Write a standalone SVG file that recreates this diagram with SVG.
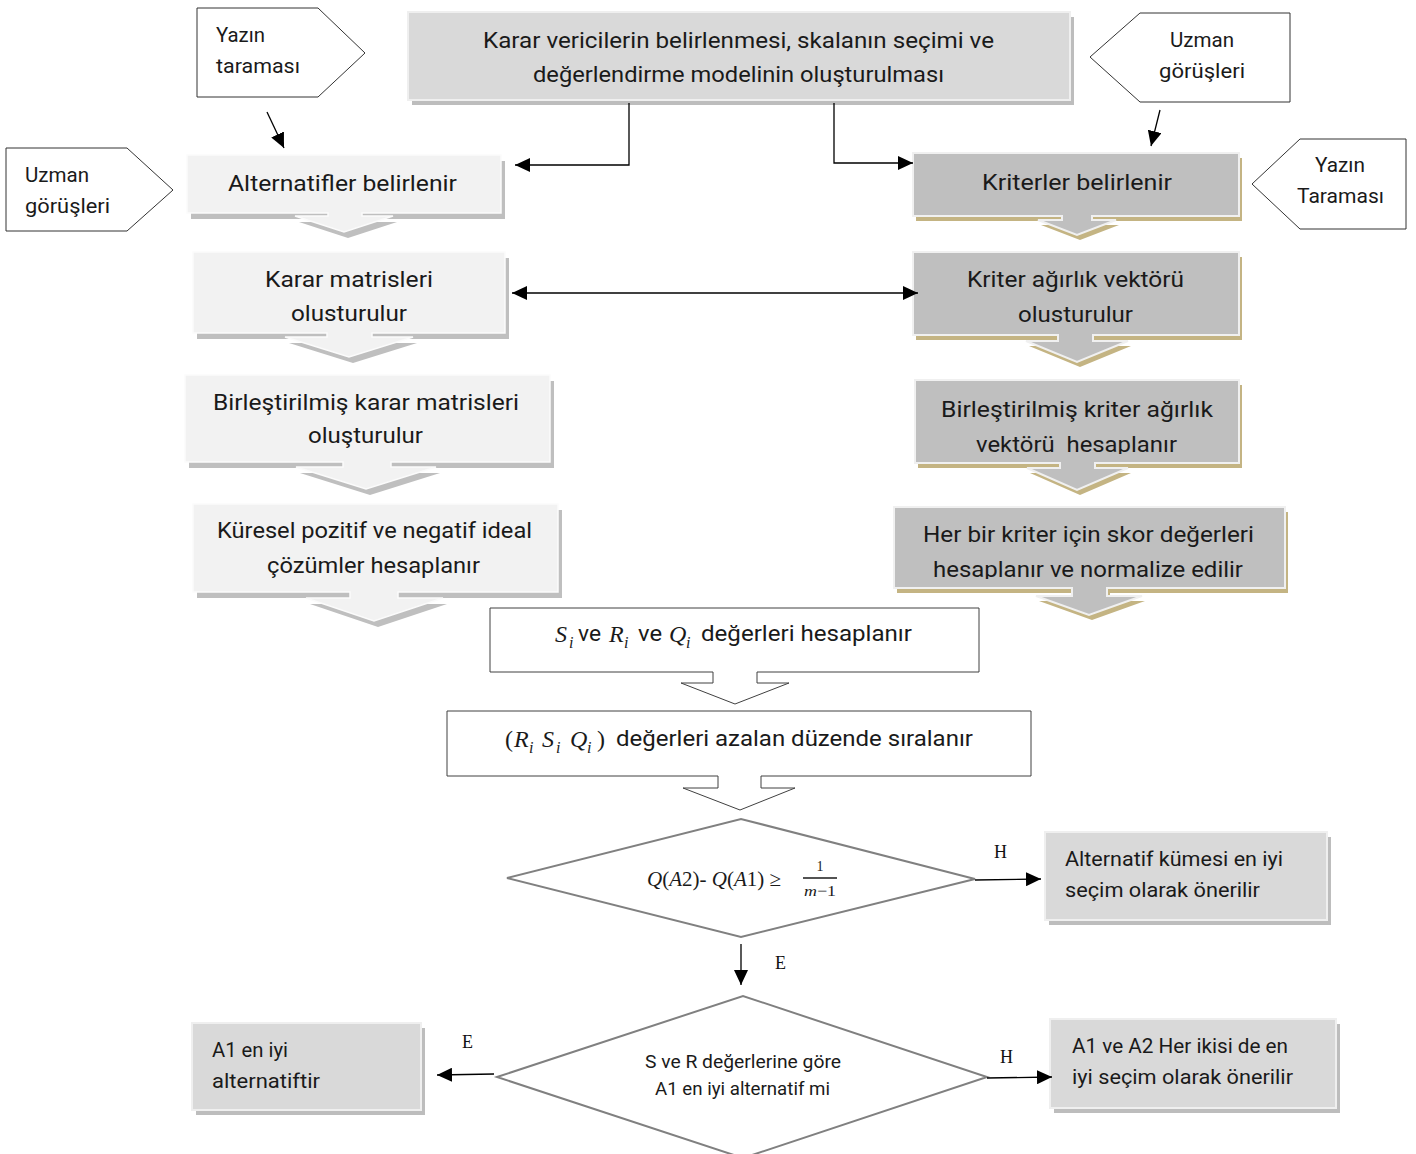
<svg xmlns="http://www.w3.org/2000/svg" xmlns:xlink="http://www.w3.org/1999/xlink" width="1416" height="1154" viewBox="0 0 1416 1154">
<style>
.t{font-family:Roboto,"Liberation Sans",sans-serif;fill:#1a1a1a;font-size:22px}
.s{font-size:21px}
.c{font-size:20px}
.d{font-size:18px}
.m{font-family:"Liberation Serif",serif;fill:#1a1a1a;font-size:24px}
.i{font-style:italic}
.sub{font-size:16px;font-style:italic}
.lbl{font-family:"Liberation Serif",serif;font-size:18px;fill:#111}
.pent{fill:#fff;stroke:#333;stroke-width:1}
.lt{fill:#f2f2f2;stroke:#fbfbfb;stroke-width:1.5}
.lsh{fill:#bfbfbf}
.rt{fill:#bfbfbf;stroke:#f0f0f0;stroke-width:2}
.rsh{fill:#c4b483}
.gb{fill:#d9d9d9;stroke:#efefef;stroke-width:2}
.gsh{fill:#bdbdbd}
.wb{fill:#fff;stroke:#404040;stroke-width:1}
.dia{fill:#fff;stroke:#808080;stroke-width:2}
.con{fill:none;stroke:#000;stroke-width:1.3}
</style>
<defs>
<marker id="ah" markerUnits="userSpaceOnUse" markerWidth="16" markerHeight="14" refX="15" refY="7" orient="auto-start-reverse"><path d="M0,0 L15,7 L0,14 Z" fill="#000"/></marker>
<path id="pL1" d="M187,155 H501 V213 H362 V216 H393 L344,232 L295,216 H328 V213 H187 Z"/>
<path id="pL2" d="M193,252 H505 V333 H372 V337 H413 L349,357 L285,337 H327 V333 H193 Z"/>
<path id="pL3" d="M185,375 H550 V462 H391 V467 H436 L366,489 L296,467 H343 V462 H185 Z"/>
<path id="pL4" d="M193,504 H558 V592 H398 V598 H443 L374,621 L306,598 H350 V592 H193 Z"/>
<path id="pR1" d="M913,153 H1239 V216 H1092 V220 H1116 L1077,235 L1038,220 H1062 V216 H913 Z"/>
<path id="pR2" d="M913,252 H1239 V335 H1093 V341 H1128 L1077,362 L1026,341 H1058 V335 H913 Z"/>
<path id="pR3" d="M915,380 H1239 V463 H1095 V468 H1128 L1077,490 L1027,468 H1060 V463 H915 Z"/>
<path id="pR4" d="M894,507 H1285 V588 H1107 V596 H1142 L1089,615 L1036,596 H1072 V588 H894 Z"/>
<clipPath id="clipR3"><rect x="900" y="380" width="340" height="74"/></clipPath>
<clipPath id="clipR4"><rect x="890" y="507" width="400" height="72"/></clipPath>
</defs>

<g id="yazin-taramasi-1">
<path class="pent" d="M197,8 H318 L365,53 L318,97 H197 Z"/>
<text class="t s" x="216" y="42" textLength="49" lengthAdjust="spacingAndGlyphs">Yazın</text>
<text class="t s" x="216" y="73" textLength="84" lengthAdjust="spacingAndGlyphs">taraması</text>
</g>
<g id="uzman-1">
<path class="pent" d="M6,148 H127 L173,190 L127,231 H6 Z"/>
<text class="t s" x="25" y="182" textLength="64" lengthAdjust="spacingAndGlyphs">Uzman</text>
<text class="t s" x="25" y="213" textLength="85" lengthAdjust="spacingAndGlyphs">görüşleri</text>
</g>
<g id="uzman-2">
<path class="pent" d="M1290,13 V102 H1140 L1090,57 L1140,13 Z"/>
<text class="t s" x="1170" y="47" textLength="64" lengthAdjust="spacingAndGlyphs">Uzman</text>
<text class="t s" x="1159" y="78" textLength="86" lengthAdjust="spacingAndGlyphs">görüşleri</text>
</g>
<g id="yazin-taramasi-2">
<path class="pent" d="M1406,139 V229 H1300 L1252,184 L1300,139 Z"/>
<text class="t s" x="1315" y="172" textLength="50" lengthAdjust="spacingAndGlyphs">Yazın</text>
<text class="t s" x="1297" y="203" textLength="87" lengthAdjust="spacingAndGlyphs">Taraması</text>
</g>

<g id="karar-vericiler">
<rect class="gsh" x="412" y="17" width="662" height="88"/>
<rect class="gb" x="408" y="12" width="662" height="88"/>
<text class="t" x="483" y="48" textLength="511" lengthAdjust="spacingAndGlyphs">Karar vericilerin belirlenmesi, skalanın seçimi ve</text>
<text class="t" x="533" y="82" textLength="411" lengthAdjust="spacingAndGlyphs">değerlendirme modelinin oluşturulması</text>
</g>

<g id="alternatifler">
<use xlink:href="#pL1" class="lsh" transform="translate(4,6)"/>
<use xlink:href="#pL1" class="lt"/>
<text class="t" x="228" y="191" textLength="229" lengthAdjust="spacingAndGlyphs">Alternatifler belirlenir</text>
</g>
<g id="karar-matrisleri">
<use xlink:href="#pL2" class="lsh" transform="translate(4,6)"/>
<use xlink:href="#pL2" class="lt"/>
<text class="t" x="265" y="287" textLength="168" lengthAdjust="spacingAndGlyphs">Karar matrisleri</text>
<text class="t" x="291" y="321" textLength="116" lengthAdjust="spacingAndGlyphs">olusturulur</text>
</g>
<g id="birlestirilmis-karar">
<use xlink:href="#pL3" class="lsh" transform="translate(4,6)"/>
<use xlink:href="#pL3" class="lt"/>
<text class="t" x="213" y="410" textLength="306" lengthAdjust="spacingAndGlyphs">Birleştirilmiş karar matrisleri</text>
<text class="t" x="308" y="443" textLength="115" lengthAdjust="spacingAndGlyphs">oluşturulur</text>
</g>
<g id="kuresel">
<use xlink:href="#pL4" class="lsh" transform="translate(4,6)"/>
<use xlink:href="#pL4" class="lt"/>
<text class="t" x="217" y="538" textLength="315" lengthAdjust="spacingAndGlyphs">Küresel pozitif ve negatif ideal</text>
<text class="t" x="267" y="573" textLength="213" lengthAdjust="spacingAndGlyphs">çözümler hesaplanır</text>
</g>

<g id="kriterler">
<use xlink:href="#pR1" class="rsh" transform="translate(3,5)"/>
<use xlink:href="#pR1" class="rt"/>
<text class="t" x="982" y="190" textLength="190" lengthAdjust="spacingAndGlyphs">Kriterler belirlenir</text>
</g>
<g id="kriter-agirlik">
<use xlink:href="#pR2" class="rsh" transform="translate(3,5)"/>
<use xlink:href="#pR2" class="rt"/>
<text class="t" x="967" y="287" textLength="217" lengthAdjust="spacingAndGlyphs">Kriter ağırlık vektörü</text>
<text class="t" x="1018" y="322" textLength="115" lengthAdjust="spacingAndGlyphs">olusturulur</text>
</g>
<g id="birlestirilmis-kriter">
<use xlink:href="#pR3" class="rsh" transform="translate(3,5)"/>
<use xlink:href="#pR3" class="rt"/>
<text class="t" x="941" y="417" textLength="272" lengthAdjust="spacingAndGlyphs">Birleştirilmiş kriter ağırlık</text>
<text class="t" x="976" y="452" textLength="201" lengthAdjust="spacingAndGlyphs" clip-path="url(#clipR3)">vektörü &#160;hesaplanır</text>
</g>
<g id="skor-degerleri">
<use xlink:href="#pR4" class="rsh" transform="translate(3,5)"/>
<use xlink:href="#pR4" class="rt"/>
<text class="t" x="923" y="542" textLength="331" lengthAdjust="spacingAndGlyphs">Her bir kriter için skor değerleri</text>
<text class="t" x="933" y="577" textLength="310" lengthAdjust="spacingAndGlyphs" clip-path="url(#clipR4)">hesaplanır ve normalize edilir</text>
</g>

<g id="sri-hesap">
<path class="wb" d="M490,608 H979 V672 H757 V683 H789 L735,704 L681,683 H713 V672 H490 Z"/>
<text class="m i" x="555" y="642">S</text>
<text class="m sub" x="569" y="648">i</text>
<text class="t" x="578" y="641" textLength="23" lengthAdjust="spacingAndGlyphs">ve</text>
<text class="m i" x="609" y="642">R</text>
<text class="m sub" x="624" y="648">i</text>
<text class="t" x="638" y="641" textLength="24" lengthAdjust="spacingAndGlyphs">ve</text>
<text class="m i" x="669" y="642">Q</text>
<text class="m sub" x="686" y="648">i</text>
<text class="t" x="701" y="641" textLength="211" lengthAdjust="spacingAndGlyphs">değerleri hesaplanır</text>
</g>
<g id="siralama">
<path class="wb" d="M447,711 H1031 V776 H761 V788 H795 L740,810 L683,788 H718 V776 H447 Z"/>
<text class="m" x="505" y="747">(</text>
<text class="m i" x="514" y="747">R</text>
<text class="m sub" x="529" y="753">i</text>
<text class="m i" x="542" y="747">S</text>
<text class="m sub" x="556" y="753">i</text>
<text class="m i" x="570" y="747">Q</text>
<text class="m sub" x="587" y="753">i</text>
<text class="m" x="597" y="747">)</text>
<text class="t" x="616" y="746" textLength="357" lengthAdjust="spacingAndGlyphs">değerleri azalan düzende sıralanır</text>
</g>

<g id="karar-1">
<path class="dia" d="M507,878 L741,819 L975,879 L741,937 Z"/>
<text class="m" x="647" y="886" style="font-size:21px"><tspan class="i">Q</tspan>(<tspan class="i">A</tspan>2)- <tspan class="i">Q</tspan>(<tspan class="i">A</tspan>1) ≥</text>
<text class="m" x="820" y="871" style="font-size:14px" text-anchor="middle">1</text>
<line x1="803" y1="878" x2="837" y2="878" stroke="#1a1a1a" stroke-width="1.3"/>
<text class="m" x="804" y="896" style="font-size:15px" textLength="32" lengthAdjust="spacingAndGlyphs"><tspan class="i">m</tspan>−1</text>
</g>
<g id="karar-2">
<path class="dia" d="M497,1077 L743,996 L987,1077 L743,1158 Z"/>
<text class="t d" x="645" y="1068" textLength="196" lengthAdjust="spacingAndGlyphs">S ve R değerlerine göre</text>
<text class="t d" x="655" y="1095" textLength="175" lengthAdjust="spacingAndGlyphs">A1 en iyi alternatif mi</text>
</g>

<g id="alternatif-kumesi">
<rect class="gsh" x="1049" y="837" width="282" height="88"/>
<rect class="gb" x="1045" y="832" width="282" height="88"/>
<text class="t c" x="1065" y="866" textLength="218" lengthAdjust="spacingAndGlyphs">Alternatif kümesi en iyi</text>
<text class="t c" x="1065" y="897" textLength="195" lengthAdjust="spacingAndGlyphs">seçim olarak önerilir</text>
</g>
<g id="a1-a2">
<rect class="gsh" x="1054" y="1024" width="286" height="89"/>
<rect class="gb" x="1050" y="1019" width="286" height="89"/>
<text class="t c" x="1072" y="1053" textLength="216" lengthAdjust="spacingAndGlyphs">A1 ve A2 Her ikisi de en</text>
<text class="t c" x="1072" y="1084" textLength="221" lengthAdjust="spacingAndGlyphs">iyi seçim olarak önerilir</text>
</g>
<g id="a1-en-iyi">
<rect class="gsh" x="196" y="1028" width="229" height="87"/>
<rect class="gb" x="192" y="1023" width="229" height="87"/>
<text class="t c" x="212" y="1057" textLength="76" lengthAdjust="spacingAndGlyphs">A1 en iyi</text>
<text class="t c" x="212" y="1088" textLength="108" lengthAdjust="spacingAndGlyphs">alternatiftir</text>
</g>

<g id="connectors">
<path class="con" d="M629,103 V165 H515" marker-end="url(#ah)"/>
<path class="con" d="M834,103 V163 H913" marker-end="url(#ah)"/>
<path class="con" d="M512,293 H918" marker-start="url(#ah)" marker-end="url(#ah)"/>
<path class="con" d="M267,112 L284,148" marker-end="url(#ah)"/>
<path class="con" d="M1160,110 L1151,146" marker-end="url(#ah)"/>
<path class="con" d="M975,880 L1041,879" marker-end="url(#ah)"/>
<path class="con" d="M741,944 V985" marker-end="url(#ah)"/>
<path class="con" d="M987,1078 L1052,1077" marker-end="url(#ah)"/>
<path class="con" d="M494,1074 L437,1075" marker-end="url(#ah)"/>
<text class="lbl" x="994" y="858">H</text>
<text class="lbl" x="775" y="969">E</text>
<text class="lbl" x="1000" y="1063">H</text>
<text class="lbl" x="462" y="1048">E</text>
</g>
</svg>
